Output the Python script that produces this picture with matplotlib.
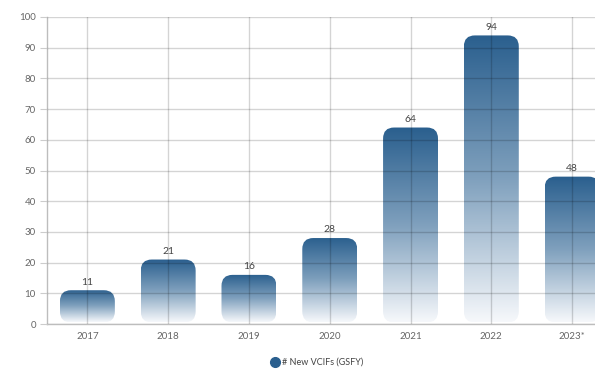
import matplotlib
matplotlib.use("Agg")
import matplotlib.pyplot as plt
import numpy as np
from matplotlib.patches import FancyBboxPatch
from matplotlib.colors import LinearSegmentedColormap

categories = ["2017", "2018", "2019", "2020", "2021", "2022", "2023*"]
values = [11, 21, 16, 28, 64, 94, 48]
series_name = "# New VCIFs (GSFY)"
y_ticks = list(range(0, 101, 10))

plt.rcParams['font.family'] = ['Lato', 'DejaVu Sans']

W, H = 595, 369
fig = plt.figure(figsize=(W / 100, H / 100), dpi=100)
ax = fig.add_axes([47 / W, 45 / H, (612.5 - 47) / W, (324 - 17) / H])

n = len(categories)
x = np.arange(n)
ax.set_xlim(-0.5, n - 0.5)
ax.set_ylim(0, 100)

top_color = "#2a5f8e"
cmap = LinearSegmentedColormap.from_list("g", ["#f6f8fb", "#7fa0bd", top_color])
grad = np.linspace(0, 1, 256).reshape(-1, 1)

bw = 0.68
px_x = (612.5 - 47) / n
px_y = (324 - 17) / 100
r_px = 11
pad_x = r_px / px_x
pad_y = r_px / px_y
aspect = pad_y / pad_x
base = 0.5

for xi, v in zip(x, values):
    x0, x1 = xi - bw / 2, xi + bw / 2
    patch = FancyBboxPatch((x0 + pad_x, base + pad_y), bw - 2 * pad_x, v - base - 2 * pad_y,
                           boxstyle=f"round,pad={pad_x}", mutation_aspect=aspect,
                           facecolor="none", edgecolor="none", transform=ax.transData)
    ax.add_patch(patch)
    im = ax.imshow(grad, extent=(x0, x1, base, v), origin="lower", cmap=cmap,
                   aspect="auto", zorder=2)
    im.set_clip_path(patch)
    ax.text(xi, v + 1.2, str(v), ha="center", va="bottom", fontsize=7.5, color="#444444", zorder=4)

ax.set_aspect("auto")
ax.set_xlim(-0.5, n - 0.5)
ax.set_ylim(0, 100)

ax.set_xticks(x)
ax.set_xticklabels(categories)
ax.set_yticks(y_ticks)
ax.grid(True, color="black", alpha=0.17, linewidth=1.0, zorder=3)
ax.set_axisbelow(False)
for s in ["top", "right"]:
    ax.spines[s].set_visible(False)
for s in ["left", "bottom"]:
    ax.spines[s].set_color("#bdbdbd")
    ax.spines[s].set_linewidth(1.0)
ax.tick_params(axis="y", length=5, color="#cccccc", labelsize=7, labelcolor="#666666", pad=3)
ax.tick_params(axis="x", length=0, labelsize=7, labelcolor="#666666", pad=6)

# legend
fig.lines.append(plt.Line2D([275 / W], [1 - 362 / H], marker="o", markersize=7,
                            color=top_color, linestyle="none", transform=fig.transFigure))
fig.text(282 / W, 1 - 362 / H, series_name, fontsize=6.5, color="#444444", va="center", ha="left")

fig.savefig("out.png", dpi=100)
